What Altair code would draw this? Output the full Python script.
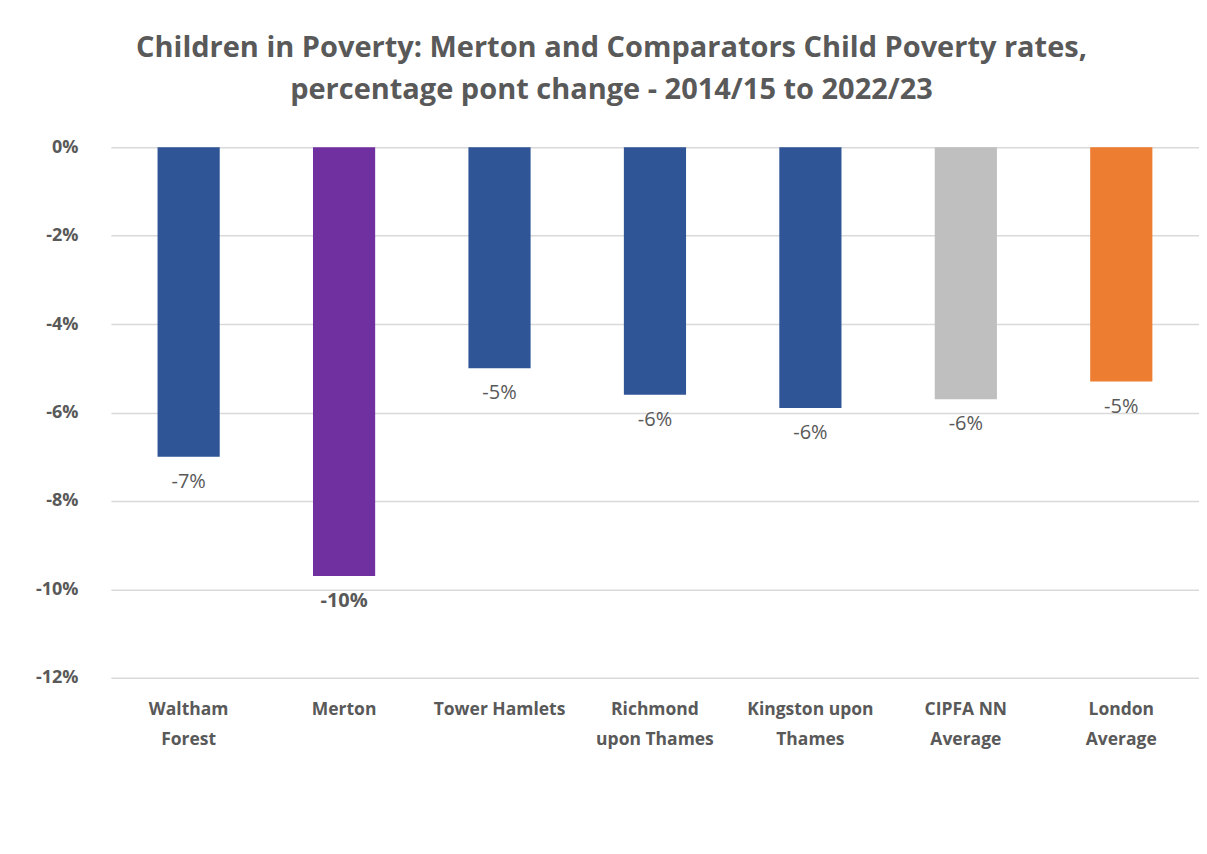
import altair as alt
import pandas as pd

categories = ["Waltham Forest", "Merton", "Tower Hamlets", "Richmond upon Thames",
              "Kingston upon Thames", "CIPFA NN Average", "London Average"]
label_lines = [["Waltham", "Forest"], ["Merton"], ["Tower Hamlets"], ["Richmond", "upon Thames"],
               ["Kingston upon", "Thames"], ["CIPFA NN", "Average"], ["London", "Average"]]
values = [-7.0, -9.7, -5.0, -5.6, -5.9, -5.7, -5.3]
colors = ["#2F5597", "#7030A0", "#2F5597", "#2F5597", "#2F5597", "#BFBFBF", "#ED7D31"]
bold_flags = [0, 1, 0, 0, 0, 0, 0]
y_ticks = [0, -2, -4, -6, -8, -10, -12]
title_lines = ["Children in Poverty: Merton and Comparators Child Poverty rates,",
               "percentage pont change - 2014/15 to 2022/23"]

df = pd.DataFrame({"cat": categories, "value": values, "color": colors, "bold": bold_flags})
one = pd.DataFrame({"k": [0]})

FONT = "Open Sans"
GRAY = "#595959"

expr_parts = []
for c, lines in zip(categories, label_lines):
    arr = "[" + ",".join("'" + l + "'" for l in lines) + "]"
    expr_parts.append(f"datum.value == '{c}' ? {arr}")
label_expr = " : ".join(expr_parts) + " : datum.value"

x = alt.X("cat:N", sort=categories, title=None,
          scale=alt.Scale(paddingInner=0.6, paddingOuter=0.3),
          axis=alt.Axis(orient="bottom", labelExpr=label_expr, labelAngle=0, labelFont=FONT,
                        labelFontSize=17.5, labelFontWeight="bold", labelColor=GRAY,
                        labelPadding=23, labelLineHeight=30, labelBaseline="top",
                        domain=False, ticks=False, grid=False, labelLimit=300))

bars = alt.Chart(df).mark_bar().encode(
    x=x,
    y=alt.Y("value:Q", title=None, scale=alt.Scale(domain=[-12, 0], nice=False),
            axis=alt.Axis(values=y_ticks, labelExpr="datum.value + '%'", labelFont=FONT,
                          labelFontSize=18, labelFontWeight="bold", labelColor=GRAY,
                          labelPadding=33, domain=False, ticks=False, grid=True,
                          gridColor="#D9D9D9", gridWidth=1.5)),
    y2=alt.datum(0),
    color=alt.Color("color:N", scale=None, legend=None),
)

text_base = alt.Chart(df).transform_calculate(
    lbl="round(datum.value) + '%'"
).encode(
    x=alt.X("cat:N", sort=categories),
    y=alt.Y("value:Q"),
    text="lbl:N",
)
labels_norm = text_base.transform_filter("datum.bold == 0").mark_text(
    font=FONT, fontSize=20, color=GRAY, baseline="middle", dy=25)
labels_bold = text_base.transform_filter("datum.bold == 1").mark_text(
    font=FONT, fontSize=20, fontWeight="bold", color=GRAY, baseline="middle", dy=25)

title = alt.Chart(one).mark_text(
    font=FONT, fontSize=29, fontWeight="bold", color=GRAY, align="center",
    baseline="alphabetic", lineHeight=42
).encode(x=alt.value(501), y=alt.value(-90), text=alt.value(title_lines))

chart = alt.layer(bars, labels_norm, labels_bold, title).properties(
    width=1089, height=531,
    autosize=alt.AutoSizeParams(type="none"),
    padding={"left": 103, "top": 139, "right": 0, "bottom": 160},
).configure_view(stroke=None)

chart.save("out.html", embed_options={"renderer": "svg", "actions": False})
